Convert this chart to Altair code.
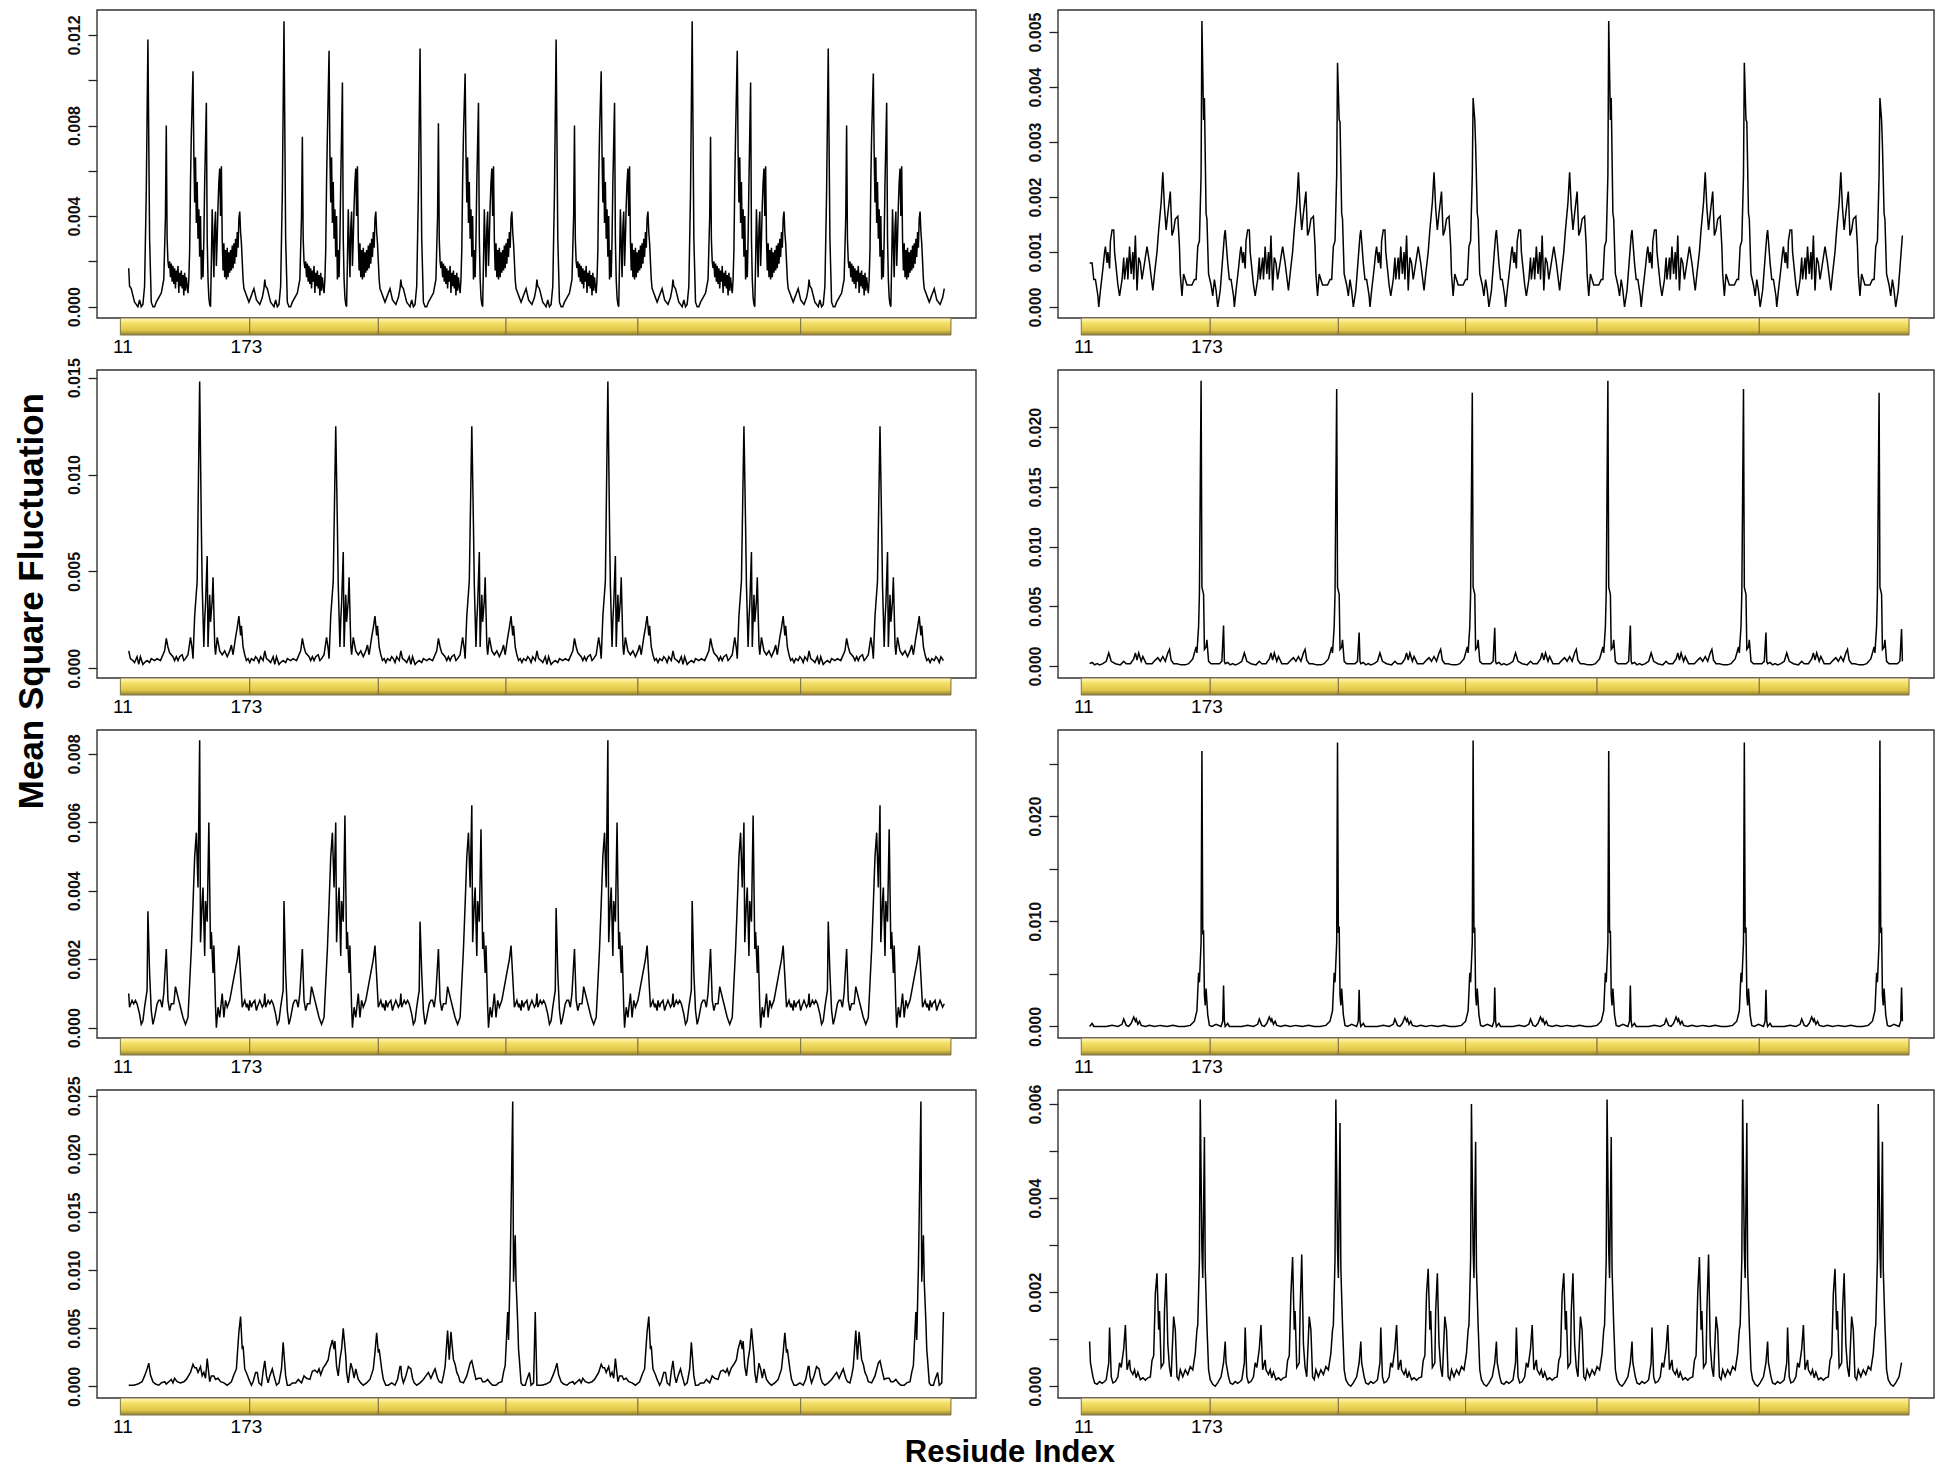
import altair as alt
import pandas as pd

# ---------------- shared layout data ----------------
CHAIN_LEN = 163          # residues 11..173 per chain
N_CHAINS = 6
X_DOMAIN = [-38, 1015]
SEG_EDGES = [-10, 145, 299, 452, 610, 805, 985]
RES_LABELS = ["11", "173"]
RES_LABEL_POS = [-7, 141]

# ---------------- panel 1 (top left) ----------------
P1_PROFILE = [(0,0.0017),(1,0.0009),(3,0.0008),(5,0.0005),(7,0.0002),(9,0.0001),(11,0.0),(13,0.0003),(15,0.0),(17,0.0001),
    (19,0.0009),(21,0.0050),(23,0.0118),(25,0.0030),(27,0.0002),(29,0.0),(31,0.0),(33,0.0002),(36,0.0004),(39,0.0006),
    (42,0.0012),(44,0.0040),(45,0.0080),(46,0.0030),(47,0.0020),(48,0.0017),(49,0.0020),(50,0.0013),(51,0.0019),(52,0.0011),
    (53,0.0018),(54,0.0010),(55,0.0017),(56,0.0008),(57,0.0016),(58,0.0011),(59,0.0018),(60,0.0006),(61,0.0015),(62,0.0009),
    (63,0.0016),(64,0.0008),(65,0.0014),(66,0.0005),(67,0.0015),(68,0.0007),(69,0.0013),(70,0.0009),(71,0.0006),(72,0.0012),
    (73,0.0025),(74,0.0055),(75,0.0076),(77,0.0104),(78,0.0068),(79,0.0046),(80,0.0066),(81,0.0037),(82,0.0055),(83,0.0030),
    (84,0.0043),(85,0.0022),(86,0.0040),(87,0.0012),(88,0.0025),(89,0.0013),(90,0.0030),(91,0.0055),(93,0.0090),(94,0.0030),
    (95,0.0012),(96,0.0004),(97,0.0001),(98,0.0),(99,0.0020),(100,0.0043),(101,0.0028),(102,0.0013),(103,0.0035),(104,0.0042),
    (105,0.0018),(106,0.0030),(107,0.0045),(108,0.0055),(109,0.0061),(110,0.0040),(111,0.0062),(112,0.0030),(113,0.0016),(114,0.0028),
    (115,0.0013),(116,0.0025),(117,0.0012),(118,0.0026),(119,0.0013),(120,0.0024),(121,0.0015),(122,0.0025),(123,0.0016),(124,0.0027),
    (125,0.0017),(126,0.0028),(127,0.0019),(128,0.0030),(129,0.0022),(130,0.0033),(131,0.0026),(132,0.0039),(133,0.0042),(134,0.0033),
    (135,0.0028),(136,0.0020),(137,0.0012),(138,0.0008),(140,0.0006),(142,0.0004),(144,0.0002),(146,0.0004),(148,0.0006),(150,0.0008),
    (153,0.0003),(157,0.0001),(160,0.0004),(162,0.0008)]
P1_CHAIN_PEAKS = {0: [0.0017, 0.0012, 0.0012, 0.0012, 0.0012, 0.0012],
                  23: [0.0118, 0.0126, 0.0114, 0.0118, 0.0126, 0.0114],
                  45: [0.0080, 0.0075, 0.0081, 0.0080, 0.0075, 0.0080],
                  77: [0.0104, 0.0113, 0.0103, 0.0104, 0.0113, 0.0103],
                  93: [0.0090, 0.0099, 0.0090, 0.0090, 0.0099, 0.0090]}
P1_DOMAIN = [-0.0005, 0.0131]
P1_TICKS = [0.0, 0.002, 0.004, 0.006, 0.008, 0.010, 0.012]
P1_LABELED = [0.0, 0.004, 0.008, 0.012]

# ---------------- panel 2 (top right) ----------------
P2_PROFILE = [(0,0.0008),(3,0.0008),(5,0.0005),(7,0.0005),(10,0.0002),(11,0.0),(13,0.0003),(16,0.0007),(18,0.0010),(19,0.0011),
    (21,0.0008),(22,0.0010),(24,0.0007),(25,0.0012),(27,0.0014),(29,0.0014),(30,0.0010),(32,0.0007),(34,0.0004),(36,0.0002),
    (39,0.0005),(41,0.0009),(42,0.0005),(45,0.0009),(46,0.0005),(48,0.0011),(50,0.0006),(52,0.0010),(53,0.0005),(55,0.0013),
    (57,0.0003),(59,0.0009),(61,0.0008),(63,0.0005),(66,0.0008),(69,0.0011),(72,0.0008),(76,0.0003),(78,0.0006),(81,0.0010),
    (83,0.0014),(86,0.0019),(88,0.00245),(90,0.0018),(92,0.0014),(94,0.0017),(97,0.0021),(99,0.0013),(101,0.0014),(103,0.0016),
    (106,0.00165),(108,0.0011),(109,0.0006),(111,0.0002),(113,0.0006),(115,0.0005),(117,0.0004),(120,0.0004),(123,0.0004),(126,0.0005),
    (128,0.0005),(130,0.0011),(132,0.0012),(134,0.0024),(135,0.0052),(137,0.0034),(138,0.0038),(140,0.0017),(141,0.0016),(143,0.0006),
    (146,0.0004),(148,0.0002),(150,0.0005),(152,0.0003),(154,0.0),(157,0.0003),(160,0.0009),(162,0.0013)]
P2_CHAIN_PEAKS = {0: [0.0008, 0.0014, 0.0014, 0.0014, 0.0014, 0.0014],
                  135: [0.0052, 0.00444, 0.0038, 0.0052, 0.00444, 0.0038],
                  138: [0.0038, 0.00337, 0.00295, 0.0038, 0.00337, 0.00295]}
P2_DOMAIN = [-0.0002, 0.0054]
P2_TICKS = [0.0, 0.001, 0.002, 0.003, 0.004, 0.005]
P2_LABELED = P2_TICKS

# ---------------- panel 3 (row 2 left) ----------------
P3_PROFILE = [(0,0.0009),(2,0.0005),(5,0.0004),(7,0.0003),(10,0.0006),(12,0.0002),(14,0.0006),(17,0.0002),(19,0.0003),(22,0.0004),
    (25,0.0003),(27,0.0005),(31,0.0004),(34,0.0005),(38,0.0004),(43,0.0009),(45,0.00155),(47,0.0011),(49,0.0008),(53,0.0006),
    (55,0.0004),(57,0.0006),(59,0.0004),(61,0.0006),(64,0.0007),(66,0.0004),(68,0.0005),(71,0.0007),(74,0.0016),(76,0.0010),
    (77,0.0005),(79,0.0027),(82,0.0045),(85,0.0148),(87,0.0073),(88,0.0043),(90,0.0011),(91,0.0025),(92,0.0033),(94,0.0058),
    (95,0.0011),(97,0.0038),(98,0.0024),(100,0.0035),(101,0.0047),(103,0.0012),(104,0.0007),(106,0.0016),(109,0.0009),(112,0.0007),
    (115,0.0009),(118,0.0006),(121,0.0009),(123,0.0012),(125,0.0007),(128,0.0016),(130,0.0021),(132,0.0027),(134,0.0017),(135,0.0022),
    (137,0.0011),(139,0.0007),(141,0.0004),(143,0.0005),(145,0.0003),(147,0.0005),(150,0.0004),(152,0.0006),(154,0.0005),(156,0.0003),
    (158,0.0006),(161,0.0004)]
P3_CHAIN_PEAKS = {85: [0.0148, 0.0125, 0.0125, 0.0148, 0.0125, 0.0125],
                  94: [0.0058, 0.0060, 0.0060, 0.0058, 0.0060, 0.0060]}
P3_DOMAIN = [-0.0005, 0.0154]
P3_TICKS = [0.0, 0.005, 0.010, 0.015]
P3_LABELED = P3_TICKS

# ---------------- panel 4 (row 2 right) ----------------
P4_PROFILE = [(0,0.0002),(3,0.0003),(6,0.0001),(9,0.0002),(12,0.0001),(16,0.0002),(20,0.0004),(23,0.0011),(26,0.0004),(31,0.0002),
    (37,0.0001),(41,0.0004),(44,0.0002),(49,0.0002),(53,0.0006),(55,0.0011),(57,0.0005),(59,0.0011),(62,0.0004),(64,0.0008),
    (68,0.0002),(72,0.0002),(75,0.0002),(79,0.0005),(82,0.0007),(85,0.0004),(88,0.0008),(91,0.0004),(94,0.0011),(96,0.0014),
    (98,0.0005),(101,0.0002),(105,0.0002),(110,0.0001),(115,0.0001),(119,0.0002),(124,0.0006),(128,0.0016),(129,0.0011),(131,0.0033),
    (132,0.0061),(134,0.0239),(135,0.0066),(137,0.0060),(138,0.0014),(140,0.0016),(141,0.0022),(143,0.0004),(146,0.0002),(150,0.0002),
    (156,0.0002),(159,0.0004),(161,0.0034),(162,0.0004)]
P4_CHAIN_PEAKS = {134: [0.0239, 0.0232, 0.0229, 0.0239, 0.0232, 0.0229],
                  161: [0.0034, 0.0028, 0.0032, 0.0034, 0.0028, 0.0031]}
P4_DOMAIN = [-0.001, 0.0248]
P4_TICKS = [0.0, 0.005, 0.010, 0.015, 0.020]
P4_LABELED = P4_TICKS

# ---------------- panel 5 (row 3 left) ----------------
P5_PROFILE = [(0,0.0010),(1,0.0006),(4,0.0008),(6,0.0007),(8,0.0008),(10,0.0007),(13,0.0004),(15,0.0001),(17,0.0002),(19,0.0006),
    (22,0.0011),(23,0.0034),(25,0.0016),(27,0.0005),(29,0.0001),(31,0.0003),(34,0.0007),(36,0.0008),(38,0.0008),(40,0.0006),
    (42,0.0010),(45,0.0023),(47,0.0008),(49,0.0005),(51,0.0007),(54,0.0007),(56,0.0012),(58,0.0010),(60,0.0008),(62,0.0006),
    (65,0.0003),(68,0.0001),(71,0.0003),(73,0.0013),(75,0.0023),(77,0.0036),(79,0.0050),(81,0.0057),(83,0.0041),(85,0.0084),
    (86,0.0025),(88,0.0037),(89,0.0041),(91,0.0021),(92,0.0037),(94,0.0031),(96,0.0060),(98,0.0023),(99,0.0028),(101,0.0016),
    (102,0.0024),(104,0.0006),(105,0.0),(107,0.0006),(109,0.0003),(112,0.0010),(114,0.0003),(116,0.0008),(118,0.0006),(121,0.0008),
    (124,0.0012),(127,0.0016),(130,0.0020),(132,0.0024),(134,0.0015),(136,0.0006),(139,0.0008),(141,0.0006),(142,0.0007),(144,0.0005),
    (145,0.0008),(147,0.0006),(148,0.0007),(151,0.0008),(153,0.0005),(154,0.0006),(157,0.0008),(160,0.0006),(162,0.0007)]
P5_CHAIN_PEAKS = {23: [0.0034, 0.0037, 0.0031, 0.0035, 0.0037, 0.0031],
                  85: [0.0084, 0.0060, 0.0065, 0.0084, 0.0060, 0.0065],
                  96: [0.0060, 0.0062, 0.0058, 0.0060, 0.0062, 0.0058]}
P5_DOMAIN = [-0.0003, 0.0087]
P5_TICKS = [0.0, 0.002, 0.004, 0.006, 0.008]
P5_LABELED = P5_TICKS

# ---------------- panel 6 (row 3 right) ----------------
P6_PROFILE = [(0,0.0),(3,0.0003),(5,0.0),(13,0.0),(20,0.0),(27,0.0001),(34,0.0),(39,0.0002),(41,0.0007),(44,0.0001),
    (47,0.0),(50,0.0003),(53,0.0009),(55,0.0005),(56,0.0007),(58,0.0002),(60,0.0005),(62,0.0001),(67,0.0),(72,0.0001),
    (78,0.0),(85,0.0001),(93,0.0),(100,0.0001),(107,0.0),(114,0.0),(121,0.0001),(126,0.0005),(129,0.0015),(131,0.0051),
    (132,0.0042),(134,0.0080),(135,0.0262),(136,0.0089),(137,0.0090),(138,0.0030),(139,0.0020),(140,0.0036),(142,0.0011),(144,0.0001),
    (147,0.0),(152,0.0002),(158,0.0),(160,0.0005),(161,0.0039),(162,0.0005)]
P6_CHAIN_PEAKS = {135: [0.0262, 0.0270, 0.0272, 0.0262, 0.0270, 0.0272],
                  137: [0.0090, 0.0095, 0.0094, 0.0091, 0.0094, 0.0094],
                  161: [0.0039, 0.0035, 0.0037, 0.0039, 0.0035, 0.0037]}
P6_DOMAIN = [-0.0011, 0.0282]
P6_TICKS = [0.0, 0.005, 0.010, 0.015, 0.020, 0.025]
P6_LABELED = [0.0, 0.010, 0.020]

# ---------------- panel 7 (row 4 left): three distinct chain profiles, repeated ----------------
P7_CHAIN_A = [(0,0.0001),(6,0.0001),(11,0.0002),(16,0.0004),(19,0.0009),(22,0.0015),(24,0.0020),(26,0.0010),(29,0.0004),(32,0.0002),
    (36,0.0001),(39,0.0003),(43,0.0004),(45,0.0002),(48,0.0004),(51,0.0006),(53,0.0003),(55,0.0007),(58,0.0004),(62,0.0003),
    (66,0.0004),(69,0.0006),(74,0.0012),(77,0.0019),(79,0.0016),(81,0.0016),(83,0.0012),(86,0.0017),(88,0.0009),(90,0.0012),
    (92,0.0007),(94,0.0024),(97,0.0004),(99,0.0009),(102,0.0009),(104,0.0006),(107,0.0007),(110,0.0004),(114,0.0003),(118,0.0001),
    (123,0.0004),(126,0.0010),(129,0.0015),(130,0.0026),(132,0.0047),(134,0.0060),(136,0.0032),(137,0.0035),(139,0.0015),(142,0.0010),
    (144,0.0006),(147,0.0001),(149,0.0004),(152,0.0012),(154,0.0012),(156,0.0003),(159,0.0001),(161,0.0013)]
P7_CHAIN_B = [(0,0.0022),(2,0.0009),(4,0.0003),(6,0.0009),(9,0.0015),(11,0.0009),(14,0.0001),(17,0.0003),(20,0.0015),(22,0.0038),
    (25,0.0009),(27,0.0001),(30,0.0001),(33,0.0003),(37,0.0003),(40,0.0006),(44,0.0003),(47,0.0009),(50,0.0007),(54,0.0006),
    (57,0.0013),(60,0.0014),(63,0.0012),(65,0.0015),(67,0.0010),(70,0.0016),(73,0.0019),(76,0.0023),(78,0.0032),(81,0.0040),
    (83,0.0032),(84,0.0039),(86,0.0017),(88,0.0009),(90,0.0023),(92,0.0032),(94,0.0050),(97,0.0026),(98,0.0012),(100,0.0003),
    (103,0.0020),(105,0.0015),(107,0.0007),(109,0.0015),(112,0.0006),(115,0.0003),(118,0.0001),(122,0.0003),(126,0.0006),(130,0.0015),
    (132,0.0029),(134,0.0046),(136,0.0029),(137,0.0032),(140,0.0015),(142,0.0006),(145,0.0001),(148,0.0001),(152,0.0003),(156,0.0001),
    (159,0.0006),(162,0.0017)]
P7_CHAIN_C = [(0,0.0017),(1,0.0009),(3,0.0003),(6,0.0009),(9,0.0017),(12,0.0015),(14,0.0007),(16,0.0003),(19,0.0001),(23,0.0003),
    (27,0.0006),(30,0.0009),(33,0.0012),(36,0.0007),(39,0.0012),(41,0.0015),(44,0.0007),(46,0.0004),(49,0.0003),(51,0.0009),
    (53,0.0017),(56,0.0048),(58,0.0023),(60,0.0047),(63,0.0023),(65,0.0019),(67,0.0012),(69,0.0009),(71,0.0004),(75,0.0003),
    (79,0.0009),(83,0.0020),(85,0.0022),(88,0.0012),(90,0.0006),(93,0.0007),(96,0.0007),(98,0.0004),(101,0.0004),(104,0.0006),
    (107,0.0003),(110,0.0001),(114,0.0001),(117,0.0003),(121,0.0004),(123,0.0012),(125,0.0018),(128,0.0064),(129,0.0040),(131,0.0102),
    (132,0.0149),(134,0.0245),(135,0.0090),(137,0.0130),(138,0.0090),(140,0.0055),(141,0.0032),(142,0.0023),(144,0.0003),(146,0.0001),
    (149,0.0001),(151,0.0006),(154,0.0012),(156,0.0001),(159,0.0003),(161,0.0064)]
P7_CHAIN_ORDER = ["A", "B", "C", "A", "B", "C"]
P7_DOMAIN = [-0.001, 0.0255]
P7_TICKS = [0.0, 0.005, 0.010, 0.015, 0.020, 0.025]
P7_LABELED = P7_TICKS

# ---------------- panel 8 (row 4 right) ----------------
P8_PROFILE = [(0,0.00095),(1,0.0005),(4,0.0002),(6,0.00007),(9,0.00004),(12,0.0001),(15,0.00006),(18,0.0001),(20,0.00014),(23,0.0005),
    (24,0.00125),(26,0.0002),(28,0.00007),(31,0.0001),(34,0.0002),(36,0.0005),(38,0.0004),(41,0.0008),(43,0.0013),(45,0.00035),
    (48,0.00056),(49,0.00035),(52,0.00025),(54,0.00035),(56,0.00018),(58,0.0003),(61,0.00014),(64,0.00018),(67,0.00013),(70,0.00018),
    (73,0.0002),(75,0.00055),(77,0.00065),(79,0.00197),(81,0.0024),(83,0.0012),(84,0.0016),(86,0.0004),(89,0.0005),(90,0.0016),
    (92,0.0024),(94,0.0009),(96,0.0004),(98,0.0002),(101,0.00148),(103,0.0012),(105,0.0002),(107,0.00014),(109,0.00035),(112,0.0002),
    (115,0.00035),(118,0.00025),(121,0.00042),(124,0.00035),(127,0.0007),(129,0.0012),(130,0.0013),(132,0.0027),(133,0.0061),(135,0.0029),
    (136,0.0023),(138,0.0053),(139,0.0025),(141,0.0013),(143,0.00035),(145,0.00014),(148,0.00004),(151,0.0),(154,0.00007),(158,0.0002),
    (161,0.0005)]
P8_CHAIN_PEAKS = {81: [0.0024, 0.00275, 0.0025, 0.0024, 0.00275, 0.0025],
                  92: [0.0024, 0.0028, 0.0024, 0.0024, 0.0028, 0.0024],
                  133: [0.0061, 0.0061, 0.0060, 0.0061, 0.0061, 0.0060],
                  138: [0.0053, 0.0056, 0.0052, 0.0053, 0.0056, 0.0052]}
P8_DOMAIN = [-0.00025, 0.0063]
P8_TICKS = [0.0, 0.001, 0.002, 0.003, 0.004, 0.005, 0.006]
P8_LABELED = [0.0, 0.002, 0.004, 0.006]

# ---------------- styling ----------------
LEFT_W = 879
RIGHT_W = 876
PLOT_H = 308
BAR_H = 38
BAR_THICK = 17
FONT = "Liberation Sans"

GOLD = alt.Gradient(
    gradient="linear",
    stops=[alt.GradientStop(color="#fff9c8", offset=0),
           alt.GradientStop(color="#f4e066", offset=0.3),
           alt.GradientStop(color="#e0c648", offset=0.72),
           alt.GradientStop(color="#8f7e32", offset=1)],
    x1=0, x2=0, y1=0, y2=1)


def build_series(profiles, chain_peaks=None):
    xs, ys = [], []
    for c, prof in enumerate(profiles):
        for r, v in prof:
            if chain_peaks and r in chain_peaks:
                v = chain_peaks[r][c]
            xs.append(c * CHAIN_LEN + r)
            ys.append(v)
    return pd.DataFrame({"g": xs, "msf": ys})


def panel(df, domain, ticks, labeled, width):
    lab = ",".join(repr(v) for v in labeled)
    expr = f"indexof([{lab}], datum.value) >= 0 ? format(datum.value, '.3f') : ''"
    xs = alt.Scale(domain=X_DOMAIN, nice=False, zero=False)
    ys_line = alt.Scale(domain=domain, range=[PLOT_H, 0], nice=False, zero=False)
    ys_bar = alt.Scale(domain=[0, BAR_H], range=[PLOT_H, PLOT_H + BAR_H], nice=False, zero=False)

    line = alt.Chart(df).mark_line(color="black", strokeWidth=1.5).encode(
        x=alt.X("g:Q", scale=xs, axis=None),
        y=alt.Y("msf:Q", scale=ys_line,
                axis=alt.Axis(values=ticks, labelExpr=expr, title=None, domain=False, grid=False,
                              tickSize=9, tickColor="#222222", tickWidth=1.3,
                              labelAngle=270, labelAlign="center", labelBaseline="bottom",
                              labelPadding=6, labelFont=FONT, labelFontSize=16,
                              labelFontWeight="bold", labelColor="#111111",
                              labelOverlap=False, labelFlush=False)),
    )
    box_df = pd.DataFrame({"x0": [X_DOMAIN[0]], "x1": [X_DOMAIN[1]],
                           "y0": [domain[0]], "y1": [domain[1]]})
    box = alt.Chart(box_df).mark_rect(fill="transparent", stroke="#333333", strokeWidth=1.4).encode(
        x=alt.X("x0:Q", scale=xs, axis=None), x2="x1:Q",
        y=alt.Y("y0:Q", scale=ys_line, axis=None), y2="y1:Q")

    seg = pd.DataFrame({"x": SEG_EDGES[:-1], "x2": SEG_EDGES[1:],
                        "top": [0] * (len(SEG_EDGES) - 1),
                        "bottom": [BAR_THICK] * (len(SEG_EDGES) - 1)})
    rects = alt.Chart(seg).mark_rect(fill=GOLD, stroke="#7e7248", strokeWidth=1).encode(
        x=alt.X("x:Q", scale=xs, axis=None), x2="x2:Q",
        y=alt.Y("top:Q", scale=ys_bar, axis=None), y2="bottom:Q")
    labs = pd.DataFrame({"g": RES_LABEL_POS, "label": RES_LABELS, "yy": [29] * len(RES_LABELS)})
    text = alt.Chart(labs).mark_text(font=FONT, fontSize=19, color="black",
                                     align="center", baseline="middle").encode(
        x=alt.X("g:Q", scale=xs, axis=None),
        y=alt.Y("yy:Q", scale=ys_bar, axis=None),
        text="label:N")

    return alt.layer(box, line, rects, text).resolve_scale(y="independent").properties(
        width=width, height=PLOT_H + BAR_H)


p1 = build_series([P1_PROFILE] * N_CHAINS, P1_CHAIN_PEAKS)
p2 = build_series([P2_PROFILE] * N_CHAINS, P2_CHAIN_PEAKS)
p3 = build_series([P3_PROFILE] * N_CHAINS, P3_CHAIN_PEAKS)
p4 = build_series([P4_PROFILE] * N_CHAINS, P4_CHAIN_PEAKS)
p5 = build_series([P5_PROFILE] * N_CHAINS, P5_CHAIN_PEAKS)
p6 = build_series([P6_PROFILE] * N_CHAINS, P6_CHAIN_PEAKS)
p7_map = {"A": P7_CHAIN_A, "B": P7_CHAIN_B, "C": P7_CHAIN_C}
p7 = build_series([p7_map[k] for k in P7_CHAIN_ORDER])
p8 = build_series([P8_PROFILE] * N_CHAINS, P8_CHAIN_PEAKS)

panels = [
    panel(p1, P1_DOMAIN, P1_TICKS, P1_LABELED, LEFT_W),
    panel(p2, P2_DOMAIN, P2_TICKS, P2_LABELED, RIGHT_W),
    panel(p3, P3_DOMAIN, P3_TICKS, P3_LABELED, LEFT_W),
    panel(p4, P4_DOMAIN, P4_TICKS, P4_LABELED, RIGHT_W),
    panel(p5, P5_DOMAIN, P5_TICKS, P5_LABELED, LEFT_W),
    panel(p6, P6_DOMAIN, P6_TICKS, P6_LABELED, RIGHT_W),
    panel(p7, P7_DOMAIN, P7_TICKS, P7_LABELED, LEFT_W),
    panel(p8, P8_DOMAIN, P8_TICKS, P8_LABELED, RIGHT_W),
]

grid = alt.concat(*panels, columns=2, spacing=alt.RowColnumber(row=14, column=82),
                  bounds="flush", align="each").properties(
    title=alt.TitleParams("Mean Square Fluctuation", orient="left", anchor="middle",
                          font=FONT, fontSize=35, fontWeight="bold", color="black",
                          offset=16, dx=122))

chart = alt.vconcat(grid).properties(
    title=alt.TitleParams("Resiude Index", orient="bottom", anchor="middle",
                          font=FONT, fontSize=31, fontWeight="bold", color="black",
                          offset=0, dx=35),
    padding={"left": 6, "top": 0, "right": 0, "bottom": 0},
).configure(background="white").configure_view(stroke="transparent")

chart.save("out.html", embed_options={"renderer": "svg", "actions": False})
